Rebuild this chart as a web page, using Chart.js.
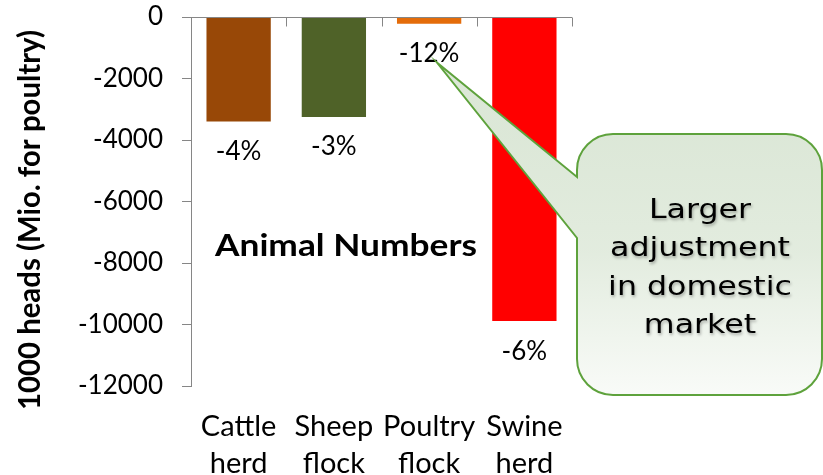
<!DOCTYPE html>
<html>
<head>
<meta charset="utf-8">
<script src="https://cdn.jsdelivr.net/npm/chart.js@4.4.1/dist/chart.umd.min.js"></script>
<style>
  html, body { margin: 0; padding: 0; background: #ffffff; }
  #wrap { width: 823px; height: 475px; position: relative; }
</style>
</head>
<body>
<div id="wrap"><canvas id="c" width="823" height="475"></canvas></div>
<script>
// Change in animal numbers (1000 heads; million for poultry)
const categories = [['Cattle', 'herd'], ['Sheep', 'flock'], ['Poultry', 'flock'], ['Swine', 'herd']];
const headChange = [-3400, -3250, -220, -9890];
const percentLabels = ['-4%', '-3%', '-12%', '-6%'];
const barColors = ['#984807', '#4F6228', '#E46C0A', '#FF0000'];
const yMin = -12000;
const yMax = 0;
const yStep = 2000;
const yAxisTitle = '1000 heads (Mio. for poultry)';
const chartTitle = 'Animal Numbers';
const calloutLines = ['Larger', 'adjustment', 'in domestic', 'market'];
const calloutTarget = 2; // index of the bar whose label the callout points at

const AXIS_GREY = '#868686';
const BASE_FONT = 'Lato, "Open Sans", sans-serif';

// draw a string with a horizontal scale so it spans a given width
function drawFitted(ctx, text, x, y, font, width, rotate) {
  ctx.save();
  ctx.font = font;
  const w = ctx.measureText(text).width;
  ctx.translate(x, y);
  if (rotate) ctx.rotate(rotate);
  ctx.scale(width / w, 1);
  ctx.textAlign = 'center';
  ctx.textBaseline = 'middle';
  ctx.fillText(text, 0, 0);
  ctx.restore();
}

// zero line of the value axis with category separator ticks
const zeroAxisPlugin = {
  id: 'zeroAxis',
  afterDatasetsDraw(chart) {
    const { ctx, scales: { y } } = chart;
    const y0 = Math.round(y.getPixelForValue(0)) + 0.5;
    const left = chart.chartArea.left;
    const right = chart.chartArea.right;
    const n = chart.data.labels.length;
    ctx.save();
    ctx.strokeStyle = AXIS_GREY;
    ctx.lineWidth = 1;
    ctx.beginPath();
    ctx.moveTo(left - 9, y0);
    ctx.lineTo(right, y0);
    for (let i = 0; i <= n; i++) {
      const px = Math.round(left + (right - left) * i / n) + 0.5;
      ctx.moveTo(px, y0);
      ctx.lineTo(px, y0 + 9);
    }
    ctx.stroke();
    ctx.restore();
  }
};

// percentage labels under each bar end
const barLabelPlugin = {
  id: 'barLabels',
  afterDatasetsDraw(chart) {
    const { ctx } = chart;
    const meta = chart.getDatasetMeta(0);
    ctx.save();
    ctx.fillStyle = '#000000';
    ctx.font = '26px ' + BASE_FONT;
    ctx.textAlign = 'center';
    ctx.textBaseline = 'middle';
    meta.data.forEach((bar, i) => {
      ctx.fillText(percentLabels[i], bar.x, bar.y + 30);
    });
    ctx.restore();
  }
};

// chart title and rotated value-axis title
const titlesPlugin = {
  id: 'titles',
  afterDraw(chart) {
    const { ctx } = chart;
    ctx.save();
    ctx.fillStyle = '#000000';
    drawFitted(ctx, chartTitle, 346, 246, 'bold 31px ' + BASE_FONT, 262, 0);
    drawFitted(ctx, yAxisTitle, 30, 220, 'bold 31px ' + BASE_FONT, 380, -Math.PI / 2);
    ctx.restore();
  }
};

// speech-bubble annotation pointing at one bar label
const calloutPlugin = {
  id: 'callout',
  afterDraw(chart) {
    const { ctx } = chart;
    const bar = chart.getDatasetMeta(0).data[calloutTarget];
    const tipX = bar.x + 8;
    const tipY = bar.y + 39;
    const x0 = 577, y0 = 134, x1 = 822, y1 = 395, r = 36;
    const pA = 177, pB = 238;

    const shape = () => {
      ctx.beginPath();
      ctx.moveTo(x0 + r, y0);
      ctx.lineTo(x1 - r, y0);
      ctx.arcTo(x1, y0, x1, y0 + r, r);
      ctx.lineTo(x1, y1 - r);
      ctx.arcTo(x1, y1, x1 - r, y1, r);
      ctx.lineTo(x0 + r, y1);
      ctx.arcTo(x0, y1, x0, y1 - r, r);
      ctx.lineTo(x0, pB);
      ctx.lineTo(tipX, tipY);
      ctx.lineTo(x0, pA);
      ctx.lineTo(x0, y0 + r);
      ctx.arcTo(x0, y0, x0 + r, y0, r);
      ctx.closePath();
    };

    // soft drop shadow, kept outside the bubble body
    ctx.save();
    ctx.beginPath();
    ctx.rect(0, 0, chart.width, chart.height);
    shape();
    ctx.clip('evenodd');
    shape();
    ctx.shadowColor = 'rgba(0,0,0,0.35)';
    ctx.shadowBlur = 7;
    ctx.shadowOffsetX = 0;
    ctx.shadowOffsetY = 3;
    ctx.fillStyle = '#ffffff';
    ctx.fill();
    ctx.restore();

    // translucent green body fading downward
    ctx.save();
    const g = ctx.createLinearGradient(0, y0, 0, y1);
    g.addColorStop(0, 'rgba(149,184,135,0.33)');
    g.addColorStop(0.45, 'rgba(149,184,135,0.27)');
    g.addColorStop(1, 'rgba(149,184,135,0.06)');
    shape();
    ctx.fillStyle = g;
    ctx.fill();
    ctx.lineWidth = 2;
    ctx.lineJoin = 'miter';
    ctx.strokeStyle = '#5EA23C';
    ctx.stroke();
    ctx.restore();

    // bubble text
    ctx.save();
    ctx.fillStyle = '#000000';
    ctx.shadowColor = 'rgba(0,0,0,0.3)';
    ctx.shadowBlur = 3;
    ctx.shadowOffsetX = 1;
    ctx.shadowOffsetY = 2;
    ctx.font = '26px "DejaVu Sans", sans-serif';
    const sx = 180 / ctx.measureText('adjustment').width;
    ctx.textAlign = 'center';
    ctx.textBaseline = 'middle';
    const cx = 700;
    const lineYs = [211, 249, 288, 326];
    calloutLines.forEach((line, i) => {
      ctx.save();
      ctx.translate(cx, lineYs[i]);
      ctx.scale(sx, 1);
      ctx.fillText(line, 0, 0);
      ctx.restore();
    });
    ctx.restore();
  }
};

new Chart(document.getElementById('c'), {
  type: 'bar',
  data: {
    labels: categories,
    datasets: [{
      data: headChange,
      backgroundColor: barColors,
      borderWidth: 0,
      barPercentage: 0.675,
      categoryPercentage: 1.0
    }]
  },
  options: {
    responsive: false,
    animation: false,
    devicePixelRatio: 1,
    layout: { padding: { left: 0, top: 0, right: 251, bottom: 0 } },
    plugins: {
      legend: { display: false },
      tooltip: { enabled: false },
      title: { display: false }
    },
    scales: {
      x: {
        grid: { display: false, drawTicks: false },
        border: { display: false },
        ticks: {
          color: '#000000',
          font: { family: BASE_FONT, size: 29, lineHeight: 1.27 },
          padding: 22,
          maxRotation: 0,
          autoSkip: false
        },
        afterFit(scale) {
          scale.height = 89;
          scale.paddingLeft = 0;
          scale.paddingRight = 0;
        }
      },
      y: {
        min: yMin,
        max: yMax,
        ticks: {
          stepSize: yStep,
          color: '#000000',
          font: { family: BASE_FONT, size: 26 },
          padding: 19,
          callback: (v) => String(v)
        },
        grid: { drawOnChartArea: false, tickLength: 9, color: AXIS_GREY },
        border: { display: true, color: AXIS_GREY, width: 1 },
        afterFit(scale) {
          scale.width = 191;
          scale.paddingTop = 17;
          scale.paddingBottom = 0;
        }
      }
    }
  },
  plugins: [zeroAxisPlugin, barLabelPlugin, titlesPlugin, calloutPlugin]
});
</script>
</body>
</html>
